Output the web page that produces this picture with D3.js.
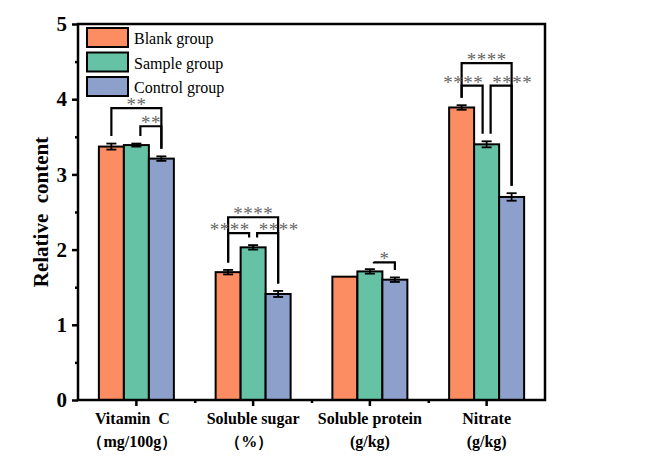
<!DOCTYPE html>
<html><head><meta charset="utf-8">
<script src="https://cdn.jsdelivr.net/npm/d3@7"></script>
<style>body{margin:0;background:#fff}text{font-family:"Liberation Serif","Times New Roman",serif}</style>
</head><body>
<script>
const categories = ['Vitamin C', 'Soluble sugar', 'Soluble protein', 'Nitrate'];
const catLine1 = ['Vitamin  C', 'Soluble sugar', 'Soluble protein', 'Nitrate'];
const catLine2 = ['\uff08mg/100g\uff09', '\uff08%\uff09', '(g/kg)', '(g/kg)'];
const groups = ['Blank group', 'Sample group', 'Control group'];
const colors = ['#FC8D62', '#66C2A5', '#8DA0CB'];
const blank = [3.37, 1.70, 1.64, 3.89];
const sample = [3.39, 2.03, 1.71, 3.40];
const control = [3.21, 1.41, 1.60, 2.70];
const blankErr = [0.04, 0.03, 0, 0.03];
const sampleErr = [0.02, 0.03, 0.03, 0.04];
const controlErr = [0.03, 0.04, 0.03, 0.05];
// significance brackets: category, group a, group b, bracket height, label, label shift
const sig = [
  [0, 0, 2, 3.88, '**', 0], [0, 1, 2, 3.64, '**', 0],
  [1, 0, 2, 2.43, '****', 0], [1, 0, 1, 2.22, '****', -9], [1, 1, 2, 2.22, '****', 11],
  [2, 1, 2, 1.83, '*', 0],
  [3, 0, 2, 4.48, '****', 0], [3, 0, 1, 4.18, '****', -9], [3, 1, 2, 4.18, '****', 11]
];

const W = 646, H = 457, L = 78, R = 545, T = 24, B = 400;
const svg = d3.select('body').append('svg').attr('width', W).attr('height', H);
const x = d3.scaleBand().domain(categories).range([L, R]);
const xg = d3.scaleBand().domain(d3.range(3)).range([-37.5, 37.5]);
const y = d3.scaleLinear().domain([0, 5]).range([B, T]);
const vals = [blank, sample, control], errs = [blankErr, sampleErr, controlErr];
const cx = (c, g) => x(categories[c]) + x.bandwidth() / 2 + xg(g) + xg.bandwidth() / 2;

const bars = [];
categories.forEach((c, ci) => groups.forEach((g, gi) => bars.push({ci, gi, v: vals[gi][ci], e: errs[gi][ci]})));

svg.selectAll('rect.bar').data(bars).enter().append('rect')
  .attr('x', d => cx(d.ci, d.gi) - xg.bandwidth() / 2).attr('width', xg.bandwidth())
  .attr('y', d => y(d.v)).attr('height', d => B - y(d.v))
  .attr('fill', d => colors[d.gi]).attr('stroke', '#000').attr('stroke-width', 2);

const eb = svg.append('g').attr('stroke', '#000').attr('stroke-width', 1.8);
bars.filter(d => d.e > 0).forEach(d => {
  const X = cx(d.ci, d.gi);
  eb.append('line').attr('x1', X).attr('x2', X).attr('y1', y(d.v + d.e)).attr('y2', y(d.v - d.e));
  [d.v + d.e, d.v - d.e].forEach(v => eb.append('line').attr('x1', X - 5).attr('x2', X + 5).attr('y1', y(v)).attr('y2', y(v)));
});

const br = svg.append('g');
sig.forEach(([c, a, b, h, lab, sh]) => {
  const xa = cx(c, a) + (a === 1 && b === 2 ? 4 : 0), xb = cx(c, b) - (a === 0 && b === 1 ? 4 : 0);
  const ya = vals[a][c] + errs[a][c] + 0.1, yb = vals[b][c] + errs[b][c] + 0.1;
  br.append('path').attr('d', `M${xa},${y(ya)}V${y(h)}H${xb}V${y(yb)}`)
    .attr('fill', 'none').attr('stroke', '#000').attr('stroke-width', 2.2);
  br.append('text').attr('x', (xa + xb) / 2 + sh).attr('y', y(h) + 3).attr('text-anchor', 'middle')
    .attr('font-size', 19).attr('letter-spacing', 0.5).attr('fill', '#666').text(lab);
});

// frame
svg.append('rect').attr('x', L).attr('y', T).attr('width', R - L).attr('height', B - T)
  .attr('fill', 'none').attr('stroke', '#000').attr('stroke-width', 2.5);

const yAx = svg.append('g').attr('transform', `translate(${L},0)`)
  .call(d3.axisLeft(y).tickValues(d3.range(0, 5.01, 1)).tickSize(6).tickFormat(d3.format('d')));
svg.append('g').attr('transform', `translate(${L},0)`)
  .call(d3.axisLeft(y).tickValues(d3.range(0.5, 5, 1)).tickSize(3).tickFormat(''));
svg.append('g').attr('transform', `translate(0,${B})`)
  .call(d3.axisBottom(x).tickSize(6).tickFormat(''));
svg.append('g').attr('transform', `translate(0,${B})`)
  .call(d3.axisBottom(d3.scaleLinear().domain([0, 4]).range([L, R])).tickValues([1, 2, 3]).tickSize(3).tickFormat(''));
svg.selectAll('.domain').remove();
svg.selectAll('.tick line').attr('stroke-width', 2.5);
yAx.selectAll('text').attr('font-size', 21).attr('font-weight', 'bold').attr('dx', -2);

const xl = svg.append('g').attr('font-weight', 'bold').attr('font-size', 16).attr('text-anchor', 'middle');
categories.forEach((c, i) => {
  const X = x(c) + x.bandwidth() / 2;
  xl.append('text').attr('x', X - (i === 0 ? 4 : 0)).attr('y', 424).attr('xml:space', 'preserve').text(catLine1[i]);
  xl.append('text').attr('x', X - (i < 2 ? 4 : 0)).attr('y', 447).text(catLine2[i]);
});

svg.append('text').attr('transform', `translate(48,${(T + B) / 2}) rotate(-90)`)
  .attr('text-anchor', 'middle').attr('font-size', 21).attr('font-weight', 'bold')
  .attr('xml:space', 'preserve').text('Relative  content');

const lg = svg.append('g');
groups.forEach((g, i) => {
  lg.append('rect').attr('x', 87).attr('y', 28 + i * 24.5).attr('width', 41).attr('height', 19)
    .attr('fill', colors[i]).attr('stroke', '#000').attr('stroke-width', 2);
  lg.append('text').attr('x', 134).attr('y', 44 + i * 24.5).attr('font-size', 16).text(g);
});
</script>
</body></html>
